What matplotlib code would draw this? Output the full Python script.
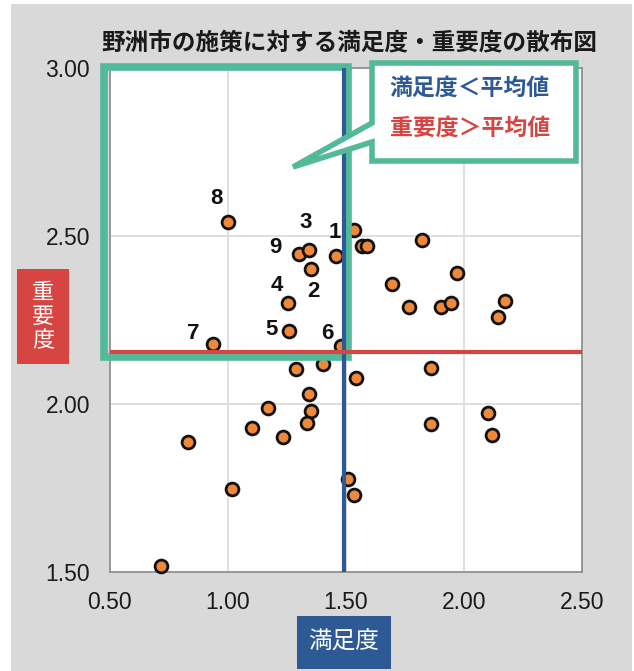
import matplotlib
matplotlib.use("Agg")
import matplotlib.pyplot as plt
from matplotlib.patches import Rectangle, Polygon

plt.rcParams['font.family'] = ['Liberation Sans', 'Noto Sans CJK JP', 'DejaVu Sans']

# 施策ごとの満足度(x)と重要度(y)
satisfaction = [1.00, 1.535, 1.567, 1.588, 1.302, 1.344, 1.460, 1.351, 1.254, 1.258,
                0.937, 1.481, 1.402, 1.288, 1.821, 1.969, 1.696, 1.769, 1.903, 1.945,
                2.172, 2.145, 1.545, 1.861, 1.344, 1.351, 1.334, 1.236, 2.103, 2.120,
                1.861, 1.169, 1.102, 0.834, 1.018, 1.511, 1.535, 0.717]
importance = [2.541, 2.518, 2.470, 2.470, 2.446, 2.458, 2.440, 2.401, 2.300, 2.217,
              2.178, 2.174, 2.118, 2.103, 2.487, 2.389, 2.358, 2.289, 2.289, 2.300,
              2.307, 2.259, 2.076, 2.106, 2.031, 1.978, 1.943, 1.901, 1.972, 1.907,
              1.941, 1.988, 1.929, 1.888, 1.747, 1.777, 1.729, 1.518]
point_labels = ["8", "", "", "", "9", "3", "1", "2", "4", "5",
                "7", "6", "", "", "", "", "", "", "", "",
                "", "", "", "", "", "", "", "", "", "",
                "", "", "", "", "", "", "", ""]

avg_satisfaction = 1.493
avg_importance = 2.156

x_ticks = [0.50, 1.00, 1.50, 2.00, 2.50]
y_ticks = [1.50, 2.00, 2.50, 3.00]

title = "野洲市の施策に対する満足度・重要度の散布図"
x_label = "満足度"
y_label = "重要度"
note_low = "満足度＜平均値"
note_high = "重要度＞平均値"

GREEN = "#52b99a"
BLUE = "#2d5a95"
RED = "#d64542"
ORANGE = "#f0883a"
BG = "#d9d9d9"

W, H = 634, 671
fig = plt.figure(figsize=(W / 100, H / 100), dpi=100)
fig.patch.set_facecolor("white")


def fx(x):
    return x / W


def fy(y):
    return 1 - y / H


# gray chart area
fig.patches.append(Rectangle((fx(11), fy(671)), fx(632) - fx(11), fy(4) - fy(671),
                             transform=fig.transFigure, facecolor=BG, edgecolor="none", zorder=-10))

ax = fig.add_axes([fx(109.5), fy(572), fx(582) - fx(109.5), fy(68) - fy(572)])
ax.set_zorder(1)
ax.set_facecolor("white")
ax.set_xlim(0.5, 2.5)
ax.set_ylim(1.5, 3.0)
ax.set_xticks(x_ticks)
ax.set_yticks(y_ticks)
ax.set_xticklabels([f"{v:.2f}" for v in x_ticks])
ax.set_yticklabels([f"{v:.2f}" for v in y_ticks])
ax.tick_params(length=0, labelsize=16.5, colors="#1a1a1a", pad=14)
ax.grid(True, color="#d9d9d9", linewidth=1.2, zorder=0)
ax.set_axisbelow(True)
for s in ax.spines.values():
    s.set_color("#8c8c8c")
    s.set_linewidth(1.2)

ax.scatter(satisfaction, importance, s=85, facecolor=ORANGE, edgecolor="#111111",
           linewidth=2.0, zorder=3, clip_on=False)

# highlighted region (low satisfaction, high importance)
ax.add_patch(Rectangle((fx(104), fy(357)), fx(348) - fx(104), fy(67) - fy(357),
                       transform=fig.transFigure, facecolor="none", clip_on=False,
                       edgecolor=GREEN, linewidth=5.5, zorder=4))

ax.axvline(avg_satisfaction, color=BLUE, linewidth=3.0, zorder=5)
ax.axhline(avg_importance, color=RED, linewidth=3.0, zorder=5)

label_offsets = {
    "8": (-8, 17), "1": (-1, 17), "3": (-2, 20), "9": (-17, 5), "2": (2, -16),
    "4": (-8, 13), "5": (-12, 1), "7": (-14, 8), "6": (-10, 9),
}
for xv, yv, lab in zip(satisfaction, importance, point_labels):
    if lab:
        ax.annotate(lab, (xv, yv), xytext=label_offsets[lab], textcoords="offset points",
                    ha="center", va="center", fontsize=16, fontweight="bold",
                    color="#111111", zorder=6)

# callout
callout = [(372, 63), (576, 63), (576, 161), (372, 161), (372, 142), (293, 167), (372, 123)]
fig.patches.append(Polygon([(fx(a), fy(b)) for a, b in callout], closed=True,
                           transform=fig.transFigure, facecolor="white",
                           edgecolor=GREEN, linewidth=4.0, joinstyle="miter", zorder=7))
cjk = ['Noto Sans CJK JP', 'DejaVu Sans']
fig.text(fx(470), fy(88), note_low, ha="center", va="center", fontsize=16.5,
         fontweight="bold", color=BLUE, family=cjk, zorder=8)
fig.text(fx(470), fy(128), note_high, ha="center", va="center", fontsize=16.5,
         fontweight="bold", color=RED, family=cjk, zorder=8)

fig.text(fx(349), fy(42), title, ha="center", va="center", fontsize=17,
         fontweight="bold", color="#1a1a1a", family=cjk)

# axis title boxes
fig.patches.append(Rectangle((fx(17), fy(364)), fx(69) - fx(17), fy(269) - fy(364),
                             transform=fig.transFigure, facecolor=RED, edgecolor="none", zorder=2))
fig.text(fx(43), fy(316.5), "\n".join(y_label), ha="center", va="center", fontsize=16,
         color="white", family=cjk, linespacing=1.05, zorder=3)
fig.patches.append(Rectangle((fx(297), fy(669)), fx(391) - fx(297), fy(616) - fy(669),
                             transform=fig.transFigure, facecolor=BLUE, edgecolor="none", zorder=2))
fig.text(fx(344), fy(642), x_label, ha="center", va="center", fontsize=17,
         color="white", family=cjk, zorder=3)

fig.savefig("out.png", dpi=100)
